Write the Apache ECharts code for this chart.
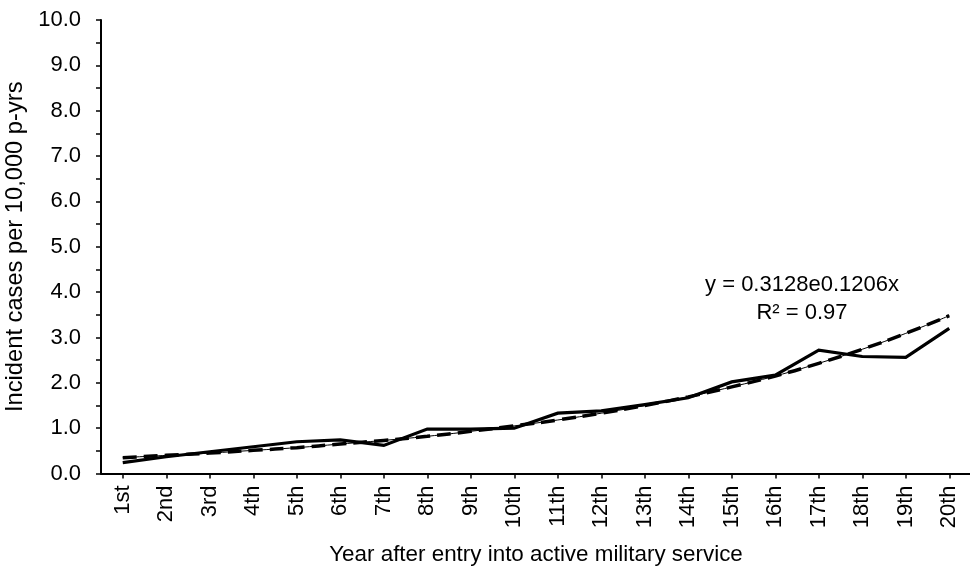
<!DOCTYPE html>
<html>
<head>
<meta charset="utf-8">
<script src="https://cdn.jsdelivr.net/npm/echarts@6/dist/echarts.min.js"></script>
<style>
html,body{margin:0;padding:0;background:#fff;}
#chart{width:970px;height:569px;}
</style>
</head>
<body>
<div id="chart"></div>
<script>
var categories = ["1st","2nd","3rd","4th","5th","6th","7th","8th","9th","10th","11th","12th","13th","14th","15th","16th","17th","18th","19th","20th"];
var incidence = [0.24,0.37,0.48,0.59,0.70,0.74,0.62,0.98,0.98,1.00,1.33,1.38,1.52,1.67,2.02,2.17,2.72,2.58,2.56,3.20];
var trendValues = [0.35,0.40,0.45,0.51,0.57,0.65,0.73,0.82,0.93,1.05,1.18,1.33,1.50,1.69,1.91,2.15,2.43,2.74,3.09,3.48];
var equationText = "y = 0.3128e0.1206x";
var r2Text = "R\u00B2 = 0.97";
var yAxisTitle = "Incident cases per 10,000 p-yrs";
var xAxisTitle = "Year after entry into active military service";

var FONT = "Liberation Sans, Arial, sans-serif";
var chart = echarts.init(document.getElementById('chart'), null, {renderer:'canvas'});
chart.setOption({
  animation: false,
  backgroundColor: '#fff',
  grid: {left: 101, right: -1, top: 20, bottom: 95.5, containLabel: false, outerBoundsMode: 'none'},
  xAxis: {
    type: 'category',
    data: categories,
    boundaryGap: true,
    name: xAxisTitle,
    nameLocation: 'middle',
    nameGap: 70,
    nameTextStyle: {fontFamily: FONT, fontSize: 22.4, color: '#000'},
    axisLine: {lineStyle: {color: '#000', width: 2}},
    axisTick: {show: true, alignWithLabel: true, length: 5, lineStyle: {color: '#000', width: 1.5}},
    axisLabel: {rotate: 90, margin: 12, fontFamily: FONT, fontSize: 22, color: '#000', interval: 0},
    splitLine: {show: false}
  },
  yAxis: {
    type: 'value',
    min: 0, max: 10, interval: 1,
    name: yAxisTitle,
    nameLocation: 'middle',
    nameGap: 70,
    nameRotate: 90,
    nameTextStyle: {fontFamily: FONT, fontSize: 23.7, color: '#000'},
    axisLine: {show: true, lineStyle: {color: '#000', width: 2}},
    axisTick: {show: true, length: 5, lineStyle: {color: '#000', width: 1.5}},
    minorTick: {show: true, splitNumber: 2, length: 5, lineStyle: {color: '#000', width: 1.5}},
    axisLabel: {margin: 20, fontFamily: FONT, fontSize: 22, color: '#000', formatter: function(v){return v.toFixed(1);}},
    splitLine: {show: false}
  },
  series: [
    {
      type: 'line', data: trendValues, smooth: true, symbol: 'none', z: 2,
      lineStyle: {color: '#000', width: 1, type: 'solid'}
    },
    {
      type: 'line', data: trendValues, smooth: true, symbol: 'none', z: 3,
      lineStyle: {color: '#000', width: 3.5, type: [14, 7]}
    },
    {
      type: 'line', data: incidence, symbol: 'none', z: 4,
      lineStyle: {color: '#000', width: 3.2, join: 'miter'}
    }
  ],
  graphic: [
    {type: 'text', x: 802, y: 285, style: {text: equationText, font: '22px ' + FONT, fill: '#000', textAlign: 'center', textVerticalAlign: 'middle'}},
    {type: 'text', x: 802, y: 313, style: {text: r2Text, font: '22px ' + FONT, fill: '#000', textAlign: 'center', textVerticalAlign: 'middle'}}
  ]
});
</script>
</body>
</html>
